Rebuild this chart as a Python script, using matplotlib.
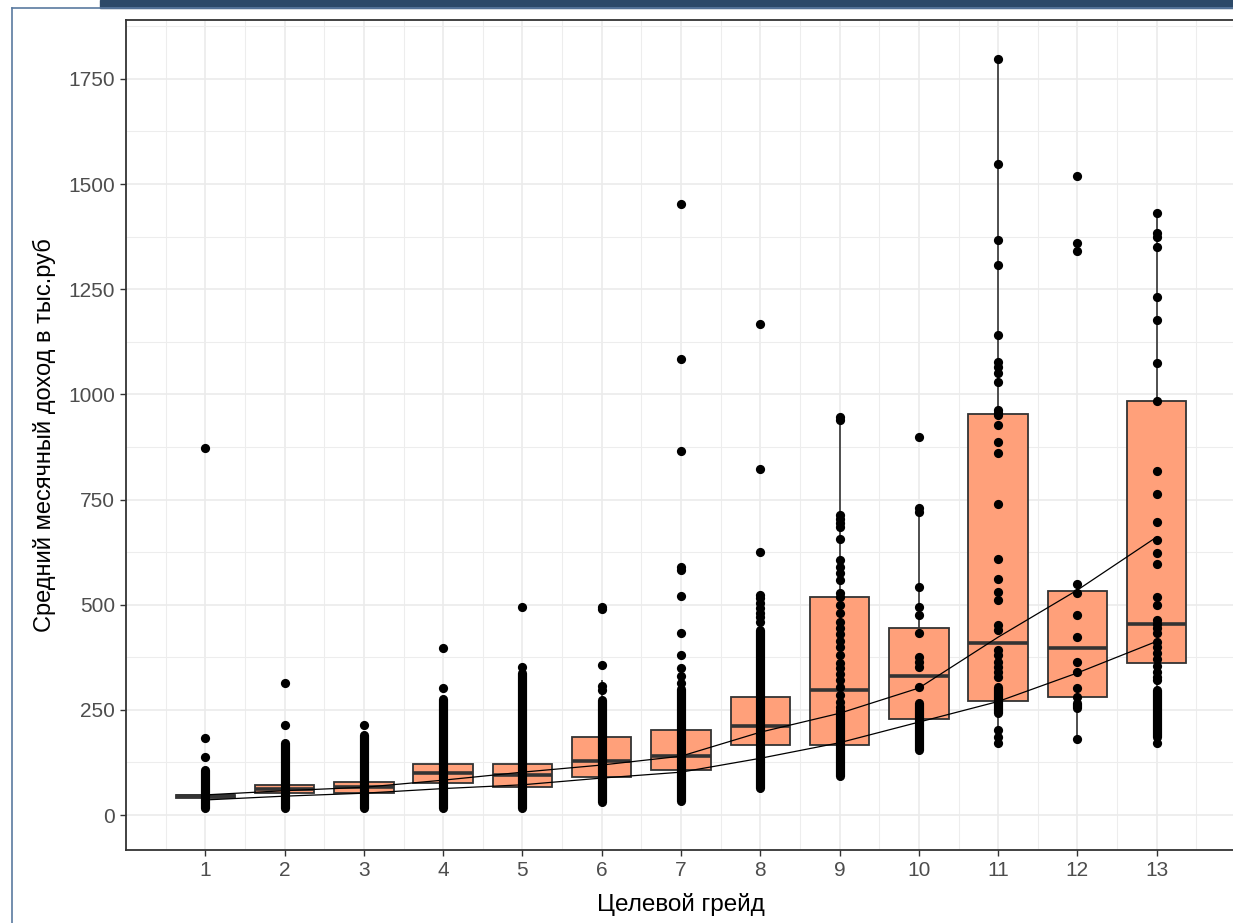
import numpy as np
import matplotlib
matplotlib.use("Agg")
import matplotlib.pyplot as plt
from matplotlib.patches import Rectangle
from matplotlib.lines import Line2D

plt.rcParams['font.family'] = ['Liberation Sans', 'DejaVu Sans']

# boxplot statistics per target grade (thousand rub)
grades = np.arange(1, 14)
q1 = [41, 53, 53, 77, 67, 90, 108, 166, 166, 228, 271, 281, 361]
med = [45, 62, 66, 100, 95, 128, 140, 211, 298, 330, 409, 397, 454]
q3 = [48, 72, 78, 121, 121, 185, 202, 281, 518, 445, 953, 533, 984]
whisk_lo = [16, 18, 18, 18, 18, 30, 33, 64, 92, 152, 171, 181, 171]
whisk_hi = [70, 100, 115, 185, 200, 320, 340, 450, 946, 730, 1797, 549, 1431]

# ranges where the observations overlap into a solid column
dense_lo = [16, 18, 18, 18, 18, 30, 33, 64, 92, 155, 242, 254, 185]
dense_hi = [107, 172, 190, 275, 337, 273, 300, 440, 250, 266, 304, 266, 297]

# individual observations that stand apart
points = {
    1: [139, 184, 873],
    2: [214, 313],
    3: [214],
    4: [302, 397],
    5: [352, 495],
    6: [297, 307, 356, 490, 495],
    7: [313, 330, 350, 380, 433, 521, 582, 590, 865, 1083, 1452],
    8: [459, 470, 480, 492, 505, 516, 523, 625, 822, 1168],
    9: [257, 270, 285, 304, 321, 335, 350, 361, 380, 400, 415, 430, 445, 460,
        480, 500, 518, 528, 559, 575, 590, 606, 656, 685, 695, 705, 713, 940, 946],
    10: [304, 352, 364, 376, 433, 475, 495, 542, 720, 730, 899],
    11: [171, 185, 202, 328, 340, 352, 365, 380, 392, 440, 452, 511, 530, 561,
         609, 739, 860, 887, 927, 951, 956, 963, 1029, 1051, 1064, 1077, 1141,
         1308, 1367, 1548, 1797],
    12: [181, 281, 302, 340, 364, 423, 475, 528, 549, 1340, 1360, 1520],
    13: [171, 320, 328, 340, 355, 370, 385, 400, 411, 433, 445, 455, 464, 499,
         518, 597, 623, 654, 697, 763, 818, 984, 1075, 1177, 1232, 1351, 1375,
         1384, 1431],
}

# two reference curves
line_upper = [48, 58, 66, 83, 102, 119, 140, 197, 242, 302, 423, 535, 661]
line_lower = [36, 45, 52, 63, 72, 88, 102, 135, 172, 221, 270, 338, 413]

fig = plt.figure(figsize=(12.33, 9.23), dpi=100)

# screenshot frame
fig.patches.append(Rectangle((100 / 1233, 1 - 8 / 923), 1 - 100 / 1233, 8 / 923,
                             transform=fig.transFigure, color='#2c4968', zorder=0))
fig.lines.append(Line2D([12 / 1233, 12 / 1233], [0, 1 - 8 / 923], transform=fig.transFigure,
                        color='#5a7aa0', lw=1.2))
fig.lines.append(Line2D([12 / 1233, 1], [1 - 8 / 923, 1 - 8 / 923], transform=fig.transFigure,
                        color='#5a7aa0', lw=1.2))

ax = fig.add_axes([126 / 1233, 73 / 923, 1110 / 1233, 830 / 923])
ax.set_xlim(0, 14)
ax.set_ylim(-83, 1890)

ax.set_xticks(grades)
ax.set_xticks(np.arange(0.5, 14, 1), minor=True)
ax.set_yticks(np.arange(0, 1751, 250))
ax.set_yticks(np.arange(125, 1900, 250), minor=True)
ax.grid(True, which='major', color='#EBEBEB', lw=1.2)
ax.grid(True, which='minor', color='#EDEDED', lw=0.8)
ax.set_axisbelow(True)
ax.tick_params(which='minor', length=0)
ax.tick_params(which='major', length=4, width=1, color='#333333',
               labelsize=15, labelcolor='#4D4D4D', pad=4)

for s in ax.spines.values():
    s.set_color('#333333')
    s.set_linewidth(1.3)

# whiskers and boxes
ax.vlines(grades, whisk_lo, whisk_hi, color='#333333', lw=1.2, zorder=2)
ax.bar(grades, np.array(q3) - np.array(q1), bottom=q1, width=0.75,
       color='#FFA07A', edgecolor='#333333', lw=1.3, zorder=3)
ax.hlines(med, grades - 0.375, grades + 0.375, color='#333333', lw=2.6, zorder=4)

# observations
for g, lo, hi in zip(grades, dense_lo, dense_hi):
    ax.plot([g, g], [lo, hi], color='black', lw=6.6, solid_capstyle='round', zorder=5)
for g, vals in points.items():
    ax.scatter(np.full(len(vals), g), vals, s=44, color='black', lw=0, zorder=5)

ax.plot(grades, line_upper, color='black', lw=0.9, zorder=6)
ax.plot(grades, line_lower, color='black', lw=0.9, zorder=6)

ax.set_xlabel('Целевой грейд', fontsize=17.5, labelpad=9)
ax.set_ylabel('Средний месячный доход в тыс.руб', fontsize=17, labelpad=9)

fig.savefig('out.png', dpi=100)
